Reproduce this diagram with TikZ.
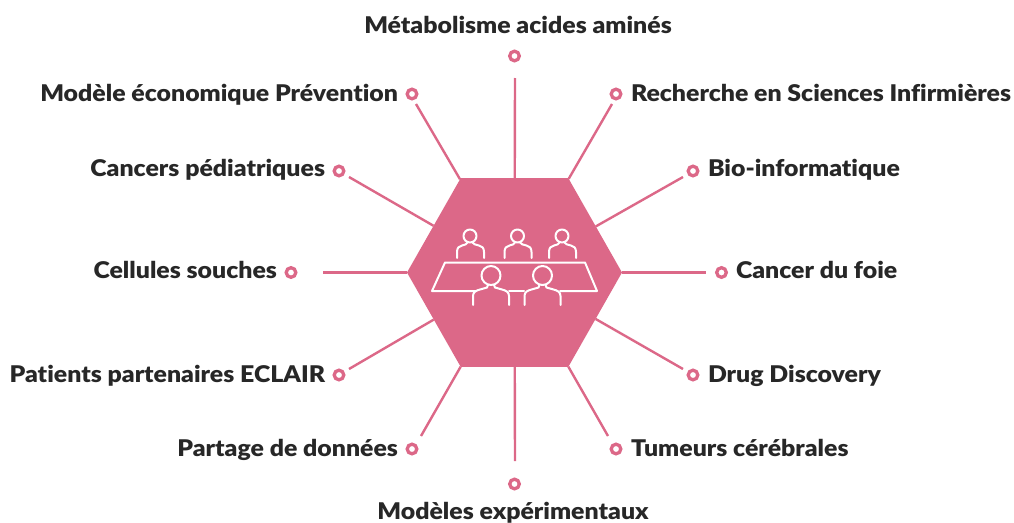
\documentclass[tikz,border=0pt]{standalone}
\usepackage{fontspec}
\setmainfont{Lato}[BoldFont={Lato Black},BoldFeatures={FakeStretch=1.08,Ligatures=NoCommon}]
\usetikzlibrary{shapes.geometric}
\definecolor{rosehex}{HTML}{DC6888}
\definecolor{inktext}{HTML}{272727}
\tikzset{
  x=1pt,y=-1pt,
  lab/.style={inner sep=0pt,outer sep=0pt,text=inktext,font=\fontsize{23}{26}\selectfont\bfseries},
  labl/.style={lab,anchor=base east},
  labr/.style={lab,anchor=base west},
  labc/.style={lab,anchor=base},
  dot/.style={circle,draw=rosehex,line width=3.3pt,fill=none,minimum size=9.6pt,inner sep=0pt,outer sep=0pt},
  conn/.style={draw=rosehex,line width=2.4pt},
  hexa/.style={regular polygon,regular polygon sides=6,minimum size=215pt,fill=rosehex,inner sep=0pt,outer sep=0pt,yscale=1.0145,transform shape},
  icon/.style={draw=white,line width=2pt,line cap=round,line join=round},
  small person/.pic={
    \draw[icon] (0,-22) circle[radius=6.5];
    \draw[icon] (-13,0) -- (-13,-6) .. controls (-13,-10) and (-11,-12) .. (-8,-12.5) .. controls (-5,-13) and (-3,-14) .. (-2.5,-15.5);
    \draw[icon] (14,0) -- (14,-6) .. controls (14,-10) and (12,-12) .. (9,-12.5) .. controls (6,-13) and (3,-14) .. (2.5,-15.5);
  },
  big person/.pic={
    \draw[icon] (0,-29.5) circle[radius=9.5];
    \draw[icon] (-18,0) -- (-18,-9) .. controls (-18,-13) and (-15,-14.5) .. (-11,-15.5) -- (-4,-17.5) -- (-3,-20);
    \draw[icon] (18,0) -- (18,-9) .. controls (18,-13) and (15,-14.5) .. (11,-15.5) -- (4,-17.5) -- (3,-20);
  }
}
\begin{document}
\begin{tikzpicture}
\useasboundingbox (0,0) rectangle (1014,522);
\node[hexa] (hex) at (514.5,272.5) {};
% free ends
\coordinate (eN) at (515,78);
\coordinate (eNE) at (612,104);
\coordinate (eENE) at (683,177);
\coordinate (eE) at (706,272.5);
\coordinate (eESE) at (683,369);
\coordinate (eSE) at (608,436);
\coordinate (eS) at (515,461);
\coordinate (eSW) at (421,436);
\coordinate (eWSW) at (349,369);
\coordinate (eW) at (323,272.5);
\coordinate (eWNW) at (349,177);
\coordinate (eNW) at (416,104);
\foreach \e in {eN,eNE,eENE,eE,eESE,eSE,eS,eSW,eWSW,eW,eWNW,eNW}
  \draw[conn] (hex) -- (\e);
% dots
\node[dot] (dN) at (514.5,56) {};
\node[dot] (dNE) at (616,94) {};
\node[dot] (dENE) at (693,171) {};
\node[dot] (dE) at (721.5,272.5) {};
\node[dot] (dESE) at (693,375) {};
\node[dot] (dSE) at (616,449) {};
\node[dot] (dS) at (514.5,484) {};
\node[dot] (dSW) at (412,449) {};
\node[dot] (dWSW) at (339,375) {};
\node[dot] (dW) at (291,272.5) {};
\node[dot] (dWNW) at (339,171) {};
\node[dot] (dNW) at (412,94) {};
% labels
\node[labc] (lN) at (518,33) {Métabolisme acides aminés};
\node[labr] (lNE) at (631,101) {Recherche en Sciences Infirmières};
\node[labr] (lENE) at (708,176) {Bio-informatique};
\node[labr] (lE) at (736,278) {Cancer du foie};
\node[labr] (lESE) at (708,382) {Drug Discovery};
\node[labr] (lSE) at (631,456) {Tumeurs cérébrales};
\node[labc] (lS) at (513,519) {Modèles expérimentaux};
\node[labl] (lSW) at (398,456) {Partage de données};
\node[labl] (lWSW) at (325,382) {Patients partenaires ECLAIR};
\node[labl] (lW) at (277,278) {Cellules souches};
\node[labl] (lWNW) at (325,176) {Cancers pédiatriques};
\node[labl] (lNW) at (398,101) {Modèle économique Prévention};
% icon
\pic at (470,258) {small person};
\pic at (517.5,258) {small person};
\pic at (562,258) {small person};
\draw[icon] (476,291) -- (432,291) -- (445,262.5) -- (585,262.5) -- (597,291) -- (560,291);
\draw[icon] (509,291) -- (524,291);
\pic at (491,305) {big person};
\pic at (542.5,305) {big person};
\end{tikzpicture}
\end{document}
